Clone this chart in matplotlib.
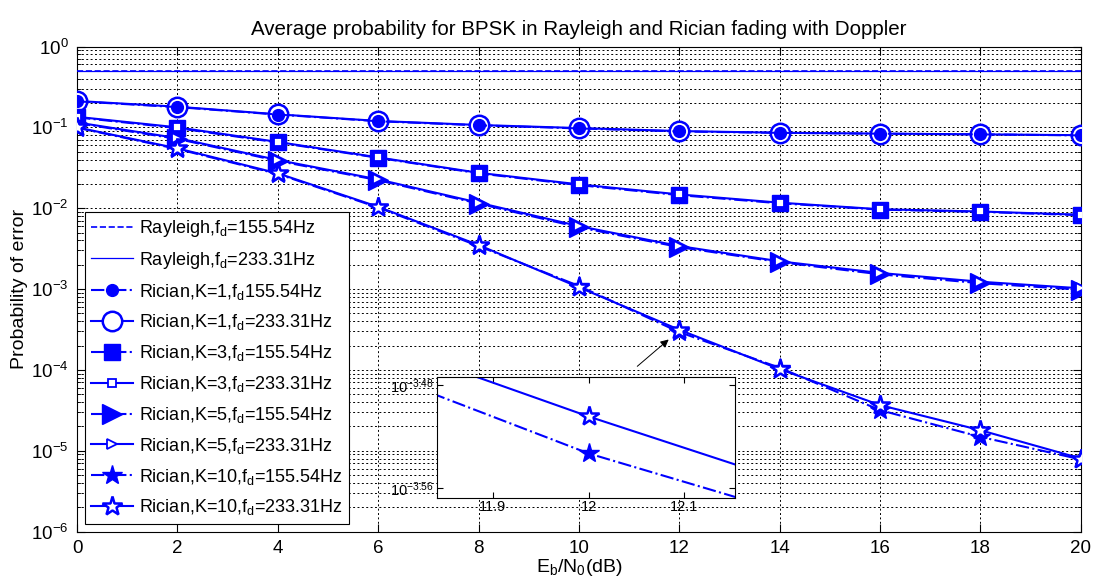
import matplotlib
matplotlib.use("Agg")
import matplotlib.pyplot as plt
from matplotlib.ticker import LogLocator, FixedLocator, NullLocator, NullFormatter
import numpy as np

plt.rcParams['font.family'] = ['Liberation Sans', 'DejaVu Sans']
plt.rcParams['mathtext.fontset'] = 'custom'
plt.rcParams['mathtext.rm'] = 'Liberation Sans'
plt.rcParams['mathtext.it'] = 'Liberation Sans:italic'
plt.rcParams['mathtext.default'] = 'regular'

# Eb/N0 (dB)
snr = [0, 2, 4, 6, 8, 10, 12, 14, 16, 18, 20]

rayleigh_155 = [0.505, 0.505, 0.505, 0.505, 0.505, 0.505, 0.505, 0.505, 0.505, 0.505, 0.505]
rayleigh_233 = [0.505, 0.505, 0.505, 0.505, 0.505, 0.505, 0.505, 0.505, 0.505, 0.505, 0.505]
k1_155 = [0.210, 0.178, 0.144, 0.119, 0.106, 0.097, 0.089, 0.0855, 0.0835, 0.0818, 0.0795]
k1_233 = [0.212, 0.180, 0.145, 0.120, 0.107, 0.098, 0.090, 0.0857, 0.0837, 0.0820, 0.0800]
k3_155 = [0.133, 0.098, 0.065, 0.0420, 0.0270, 0.0193, 0.0145, 0.0115, 0.0096, 0.0090, 0.0082]
k3_233 = [0.135, 0.100, 0.066, 0.0425, 0.0274, 0.0197, 0.0148, 0.0117, 0.0097, 0.0091, 0.0083]
k5_155 = [0.113, 0.072, 0.0385, 0.0222, 0.0114, 0.0058, 0.0033, 0.00215, 0.00152, 0.00118, 0.00098]
k5_233 = [0.115, 0.0736, 0.0394, 0.0227, 0.0117, 0.0060, 0.0034, 0.0022, 0.00158, 0.00123, 0.00102]
k10_155 = [0.099, 0.054, 0.0265, 0.0102, 0.0034, 0.00109, 2.93e-4, 1.06e-4, 3.17e-5, 1.48e-5, 7.8e-6]
k10_233 = [0.100, 0.055, 0.0270, 0.0104, 0.0035, 0.00105, 3.13e-4, 1.02e-4, 3.66e-5, 1.79e-5, 8.0e-6]

labels = ['Rayleigh,f$_d$=155.54Hz', 'Rayleigh,f$_d$=233.31Hz',
          'Rician,K=1,f$_d$155.54Hz', 'Rician,K=1,f$_d$=233.31Hz',
          'Rician,K=3,f$_d$=155.54Hz', 'Rician,K=3,f$_d$=233.31Hz',
          'Rician,K=5,f$_d$=155.54Hz', 'Rician,K=5,f$_d$=233.31Hz',
          'Rician,K=10,f$_d$=155.54Hz', 'Rician,K=10,f$_d$=233.31Hz']

B = (0, 0, 1)
lw = 1.5
mew = 1.8

fig = plt.figure(figsize=(10.94, 5.86), dpi=100)
ax = fig.add_axes([0.0704, 0.093, 0.9176, 0.8276])

h = [None] * 10
h[0], = ax.semilogy(snr, rayleigh_155, '--', color=B, lw=1.2, zorder=3)
h[1], = ax.semilogy(snr, rayleigh_233, '-', color=B, lw=0.9, zorder=2)
h[3], = ax.semilogy(snr, k1_233, '-', color=B, lw=lw, marker='o', ms=14, mfc='white', mec=B, mew=mew, zorder=3)
h[2], = ax.semilogy(snr, k1_155, '-.', color=B, lw=lw, marker='o', ms=8.5, mfc=B, mec=B, zorder=4)
h[4], = ax.semilogy(snr, k3_155, '-.', color=B, lw=lw, marker='s', ms=12, mfc=B, mec=B, zorder=3)
h[5], = ax.semilogy(snr, k3_233, '-', color=B, lw=lw, marker='s', ms=6, mfc='white', mec=B, mew=1.3, zorder=4)
h[6], = ax.semilogy(snr, k5_155, '-.', color=B, lw=lw, marker='>', ms=14, mfc=B, mec=B, zorder=3)
h[7], = ax.semilogy(snr, k5_233, '-', color=B, lw=lw, marker='>', ms=7, mfc='white', mec=B, mew=1.3, zorder=4)
h[8], = ax.semilogy(snr, k10_155, '-.', color=B, lw=lw, marker='*', ms=15, mfc=B, mec=B, zorder=3)
h[9], = ax.semilogy(snr, k10_233, '-', color=B, lw=lw, marker='*', ms=15, mfc='white', mec=B, mew=mew, zorder=4)

ax.set_xlim(0, 20)
ax.set_ylim(1e-6, 1)
ax.set_xticks(snr)
ax.yaxis.set_major_locator(LogLocator(base=10, numticks=10))
ax.yaxis.set_minor_locator(LogLocator(base=10, subs=np.arange(2, 10), numticks=20))
ax.yaxis.set_minor_formatter(NullFormatter())
ax.tick_params(which='both', direction='in', top=True, right=True)
ax.tick_params(which='major', length=6, labelsize=13.5, pad=6)
ax.tick_params(which='minor', length=3)
ax.grid(True, which='major', ls=(0, (2, 2.5)), lw=0.7, color='k')
ax.grid(True, which='minor', axis='y', ls=(0, (2, 2.5)), lw=0.7, color='k')

ax.set_title('Average probability for BPSK in Rayleigh and Rician fading with Doppler', fontsize=14.8, pad=8)
ax.set_xlabel('E$_b$/N$_0$(dB)', fontsize=14, labelpad=0)
ax.set_ylabel('Probability of error', fontsize=14, labelpad=2)

leg = ax.legend(h, labels, loc='lower left', bbox_to_anchor=(0.008, 0.016), fontsize=13,
                handlelength=2.3, handletextpad=0.35, labelspacing=0.6, borderpad=0.35,
                borderaxespad=0, fancybox=False, framealpha=1, edgecolor='k')
leg.get_frame().set_linewidth(0.8)

ax.annotate('', xy=(11.83, 2.5e-4), xytext=(11.12, 1.05e-4),
            arrowprops=dict(arrowstyle='-|>', color='k', lw=0.7, mutation_scale=12), zorder=6)

# zoomed inset around Eb/N0 = 12 dB
ins = fig.add_axes([0.3992, 0.1507, 0.2727, 0.206])
ins.semilogy(snr, k10_155, '-.', color=B, lw=lw, marker='*', ms=15, mfc=B, mec=B)
ins.semilogy(snr, k10_233, '-', color=B, lw=lw, marker='*', ms=15, mfc='white', mec=B, mew=mew)
ins.set_xlim(11.8415, 12.153)
ins.set_ylim(10 ** -3.5675, 10 ** -3.4738)
ins.set_xticks([11.9, 12, 12.1])
ins.set_xticklabels(['11.9', '12', '12.1'])
ins.yaxis.set_major_locator(FixedLocator([10 ** -3.56, 10 ** -3.48]))
ins.set_yticklabels(['10$^{-3.56}$', '10$^{-3.48}$'])
ins.yaxis.set_minor_locator(NullLocator())
ins.tick_params(which='both', direction='in', top=True, right=True, labelsize=10.5, length=4, pad=2)
ins.set_facecolor('white')

fig.savefig('out.png', dpi=100)
